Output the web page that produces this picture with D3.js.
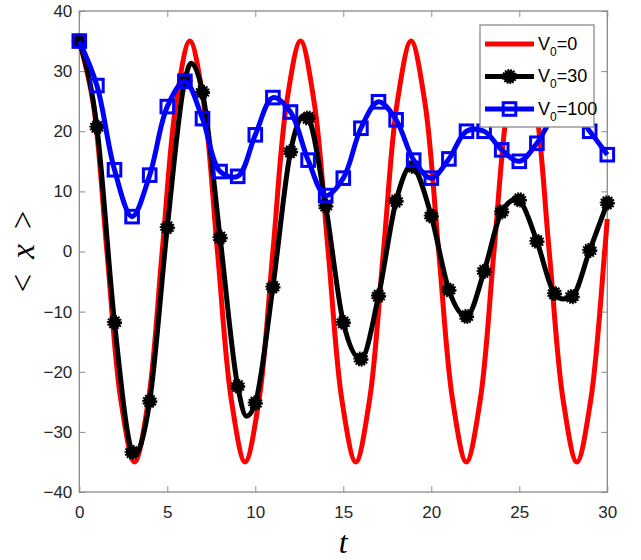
<!DOCTYPE html>
<html>
<head>
<meta charset="utf-8">
<script src="https://cdn.jsdelivr.net/npm/d3@7"></script>
<style>
  body{margin:0;background:#fff}
  svg{display:block}
</style>
</head>
<body>
<svg id="chart" width="641" height="560"></svg>
<script>
// V0 = 0 (red), read at quarter-period points
const redT = [0,0.79,1.57,2.36,3.14,3.93,4.71,5.5,6.28,7.07,7.85,8.64,9.42,10.21,11,11.78,12.57,13.35,14.14,14.92,15.71,16.49,17.28,18.06,18.85,19.64,20.42,21.21,21.99,22.78,23.56,24.35,25.13,25.92,26.7,27.49,28.27,29.06,29.85,30]
const redV = [35,24.7,0,-24.7,-35,-24.7,0,24.7,35,24.7,0,-24.7,-35,-24.7,0,24.7,35,24.7,0,-24.7,-35,-24.7,0,24.7,35,24.7,0,-24.7,-35,-24.7,0,24.7,35,24.7,0,-24.7,-35,-24.7,0,5.4]

// V0 = 30 (black) line, markers sit on the integer times
const blackT = [0,1,2,3,3.1,4,5,6,6.35,7,8,9,9.5,10,11,12,12.75,13,14,15,16,17,18,18.9,19,20,21,22,23,24,24.9,25,26,27,27.5,28,29,30]
const blackV = [35,20.7,-11.8,-33.4,-34,-24.9,4,28.5,31.3,26.5,2.3,-22.4,-27.4,-25.2,-5.9,16.6,22.6,22.2,7.6,-11.8,-17.9,-7.4,8.4,14.4,14.1,5.9,-6.4,-10.8,-3.3,6.6,8.8,8.6,1.7,-7,-7.9,-7.5,0.2,8.1]
const blackMarkT = d3.range(0,31)

// V0 = 100 (blue)
const blueT = d3.range(0,31)
const blueV = [35,27.6,13.6,5.8,12.7,24.1,28.3,22.1,13.3,12.5,19.4,25.6,23.2,15.2,9.3,12.2,20.5,24.9,21.9,15.2,12.2,15.4,20,20,16.9,15,18,22.5,23.5,20,16.1]

const xTicks = [0,5,10,15,20,25,30]
const yTicks = [-40,-30,-20,-10,0,10,20,30,40]
const legendLabels = ['=0','=30','=100']

const svg = d3.select('#chart')
const box = {left:79.3, right:607.3, top:11, bottom:492}
const x = d3.scaleLinear([0,30],[box.left,box.right])
const y = d3.scaleLinear([-40,40],[box.bottom,box.top])
const gray = '#8a8a8a'

const zip = (ts,vs)=>ts.map((t,i)=>[t,vs[i]])
const blackAt = t=>blackV[blackT.indexOf(t)]

drawAxes()
drawLines()
drawLegend()

function drawAxes(){
  let ax = svg.append('g').attr('class','axes')

  let styleAxis = g=>{
    g.select('.domain').remove()
    g.selectAll('.tick line').attr('stroke',gray)
    g.selectAll('.tick text')
      .attr('fill','#262626')
      .style('font-family','"Liberation Sans", Arial, sans-serif')
      .style('font-size','17px')
  }

  ax.append('g')
    .attr('transform',`translate(0,${box.bottom})`)
    .call(d3.axisBottom(x).tickValues(xTicks).tickSizeInner(-6).tickSizeOuter(0).tickPadding(14))
    .call(styleAxis)
  ax.append('g')
    .attr('transform',`translate(0,${box.top})`)
    .call(d3.axisTop(x).tickValues(xTicks).tickSizeInner(-6).tickSizeOuter(0).tickFormat(''))
    .call(styleAxis)
  ax.append('g')
    .attr('transform',`translate(${box.left},0)`)
    .call(d3.axisLeft(y).tickValues(yTicks).tickSizeInner(-6).tickSizeOuter(0).tickPadding(7))
    .call(styleAxis)
  ax.append('g')
    .attr('transform',`translate(${box.right},0)`)
    .call(d3.axisRight(y).tickValues(yTicks).tickSizeInner(-6).tickSizeOuter(0).tickFormat(''))
    .call(styleAxis)

  ax.append('rect')
    .attr('x',box.left).attr('y',box.top)
    .attr('width',box.right-box.left).attr('height',box.bottom-box.top)
    .attr('fill','none').attr('stroke',gray).attr('stroke-width',1.3)

  // axis titles
  let yl = svg.append('text')
    .attr('transform',`translate(34,${(box.top+box.bottom)/2}) rotate(-90)`)
    .attr('text-anchor','middle')
    .style('font-family','"Liberation Serif", "Times New Roman", serif')
    .style('font-size','33px')
  yl.append('tspan').text('<')
  yl.append('tspan').attr('dx',15).style('font-style','italic').text('x')
  yl.append('tspan').attr('dx',15).text('>')

  svg.append('text')
    .attr('x',(box.left+box.right)/2).attr('y',553)
    .attr('text-anchor','middle')
    .style('font-family','"Liberation Serif", "Times New Roman", serif')
    .style('font-style','italic')
    .style('font-size','32px')
    .text('t')
}

function starDot(sel,r){
  sel.append('circle').attr('r',r).attr('fill','#000')
    .attr('stroke','#000').attr('stroke-width',2.6).attr('stroke-dasharray','1.6,1.1')
}

function squareMark(sel){
  sel.append('rect').attr('x',-6.3).attr('y',-6.3).attr('width',12.6).attr('height',12.6)
    .attr('fill','none').attr('stroke','#0000ff').attr('stroke-width',3)
}

function drawLines(){
  let g = svg.append('g').attr('class','lines')

  let line = curve=>d3.line().x(d=>x(d[0])).y(d=>y(d[1])).curve(curve)

  g.append('path')
    .attr('d',line(d3.curveCatmullRom)(zip(redT,redV)))
    .attr('fill','none').attr('stroke','#ff0000').attr('stroke-width',5)

  g.append('path')
    .attr('d',line(d3.curveMonotoneX)(zip(blackT,blackV)))
    .attr('fill','none').attr('stroke','#000').attr('stroke-width',5)
    .attr('stroke-linejoin','round')

  g.selectAll('.bmark').data(blackMarkT).join('g')
    .attr('class','bmark')
    .attr('transform',t=>`translate(${x(t)},${y(blackAt(t))})`)
    .each(function(){ starDot(d3.select(this),6.3) })

  g.append('path')
    .attr('d',line(d3.curveCatmullRom)(zip(blueT,blueV)))
    .attr('fill','none').attr('stroke','#0000ff').attr('stroke-width',5)
    .attr('stroke-linejoin','round')

  g.selectAll('.smark').data(zip(blueT,blueV)).join('g')
    .attr('class','smark')
    .attr('transform',d=>`translate(${x(d[0])},${y(d[1])})`)
    .each(function(){ squareMark(d3.select(this)) })
}

function drawLegend(){
  let lg = svg.append('g').attr('class','legend')
  lg.append('rect')
    .attr('x',480).attr('y',25).attr('width',114).attr('height',102)
    .attr('fill','#fff').attr('stroke',gray).attr('stroke-width',1.3)

  let colors = ['#ff0000','#000','#0000ff']
  legendLabels.forEach((lab,i)=>{
    let cy = 44 + i*32.5
    let row = lg.append('g').attr('transform',`translate(0,${cy})`)
    row.append('line')
      .attr('x1',485).attr('x2',534)
      .attr('stroke',colors[i]).attr('stroke-width',5)
    let m = row.append('g').attr('transform','translate(509.5,0)')
    if (i==1) starDot(m,6.3)
    if (i==2) squareMark(m)

    let t = row.append('text')
      .attr('x',538).attr('y',5.5)
      .style('font-family','"Liberation Sans", Arial, sans-serif')
      .style('font-size','18px')
    t.append('tspan').text('V')
    t.append('tspan').attr('dy',6).style('font-size','12px').text('0')
    t.append('tspan').attr('dy',-6).text(lab)
  })
}
</script>
</body>
</html>
